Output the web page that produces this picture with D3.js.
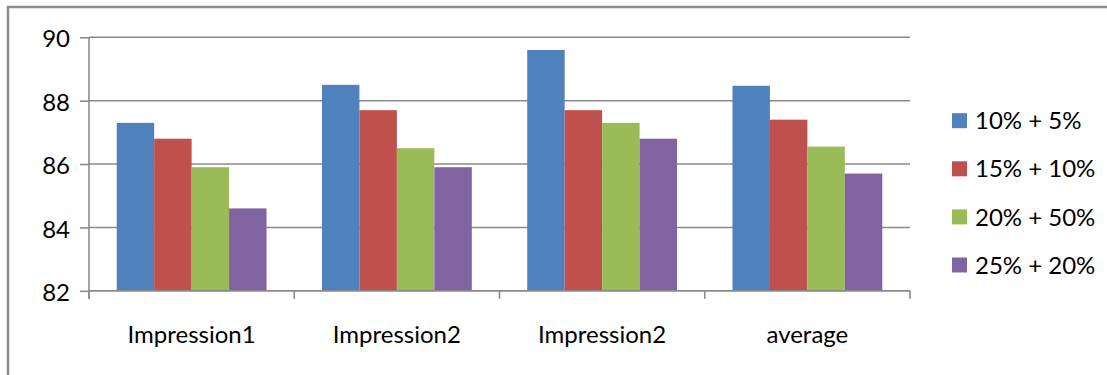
<!DOCTYPE html>
<html><head><meta charset="utf-8">
<script src="https://cdn.jsdelivr.net/npm/d3@7"></script>
<style>body{margin:0;background:#fff;overflow:hidden}svg{display:block}</style>
</head><body>
<script>
const categories = ["Impression1", "Impression2", "Impression2", "average"];
const seriesNames = ["10% + 5%", "15% + 10%", "20% + 50%", "25% + 20%"];
const s1 = [87.3, 88.5, 89.6, 88.47];
const s2 = [86.8, 87.7, 87.7, 87.4];
const s3 = [85.9, 86.5, 87.3, 86.55];
const s4 = [84.6, 85.9, 86.8, 85.7];
const colors = ["#4F81BD", "#C0504D", "#9BBB59", "#8064A2"];
const yTicks = [82, 84, 86, 88, 90];

(function () {
const W = 1107, H = 375;
const font = "Lato, 'Open Sans', sans-serif";
const svg = d3.select("body").append("svg").attr("width", W).attr("height", H);

// outer frame
svg.append("rect").attr("x", 8).attr("y", 7).attr("width", W + 20).attr("height", H + 20)
  .attr("fill", "none").attr("stroke", "#8c8c8c").attr("stroke-width", 2.5);

const pLeft = 89, pRight = 910, pTop = 37.3, pBottom = 290.8;
const x = d3.scaleBand().domain(d3.range(categories.length)).range([pLeft, pRight])
  .paddingInner(0.27).paddingOuter(0.135);
const x0 = d3.scaleBand().domain(d3.range(categories.length)).range([pLeft, pRight]);
const xs = d3.scaleBand().domain(d3.range(seriesNames.length)).range([0, x.bandwidth()]);
const y = d3.scaleLinear().domain([82, 90]).range([pBottom, pTop]);

// gridlines
svg.append("g").selectAll("line").data(yTicks).join("line")
  .attr("x1", pLeft).attr("x2", pRight).attr("y1", d => y(d)).attr("y2", d => y(d))
  .attr("stroke", "#8a8a8a").attr("stroke-width", 1.6);

// bars
const series = [s1, s2, s3, s4];
series.forEach((vals, si) => {
  svg.append("g").selectAll("rect").data(vals).join("rect")
    .attr("x", (d, i) => x(i) + xs(si))
    .attr("width", xs.bandwidth())
    .attr("y", d => y(d))
    .attr("height", d => y(82) - y(d))
    .attr("fill", colors[si]);
});

// y axis
const yAxis = d3.axisLeft(y).tickValues(yTicks).tickSize(9).tickPadding(10).tickFormat(d3.format("d"));
const gy = svg.append("g").attr("transform", `translate(${pLeft},0)`).call(yAxis);
gy.select(".domain").attr("d", `M0,${pTop}V${pBottom + 8}`).attr("stroke", "#8a8a8a").attr("stroke-width", 1.6);
gy.selectAll(".tick line").attr("stroke", "#8a8a8a").attr("stroke-width", 1.6);
gy.selectAll(".tick text").attr("font-family", font).attr("font-size", 24).attr("fill", "#000").attr("dy", "0.4em");

// x axis
const gx = svg.append("g").attr("transform", `translate(0,${pBottom})`);
gx.append("line").attr("x1", pLeft).attr("x2", pRight).attr("stroke", "#8a8a8a").attr("stroke-width", 1.6);
const bounds = d3.range(categories.length + 1).map(i => i < categories.length ? x0(i) : pRight);
gx.selectAll(".tk").data(bounds).join("line").attr("class", "tk")
  .attr("x1", d => d).attr("x2", d => d).attr("y1", 0).attr("y2", 8)
  .attr("stroke", "#8a8a8a").attr("stroke-width", 1.6);
gx.selectAll("text").data(categories).join("text")
  .attr("x", (d, i) => x0(i) + x0.bandwidth() / 2).attr("y", 52)
  .attr("text-anchor", "middle").attr("font-family", font).attr("font-size", 24).attr("fill", "#000")
  .text(d => d);

// legend
const lg = svg.append("g");
const ly = d3.scalePoint().domain(d3.range(seriesNames.length)).range([120.7, 265]);
seriesNames.forEach((n, i) => {
  lg.append("rect").attr("x", 952).attr("y", ly(i) - 7.5).attr("width", 15).attr("height", 15).attr("fill", colors[i]);
  lg.append("text").attr("x", 975).attr("y", ly(i)).attr("dy", "0.36em")
    .attr("font-family", font).attr("font-size", 24).attr("fill", "#000").text(n);
});
})();
</script>
</body></html>
